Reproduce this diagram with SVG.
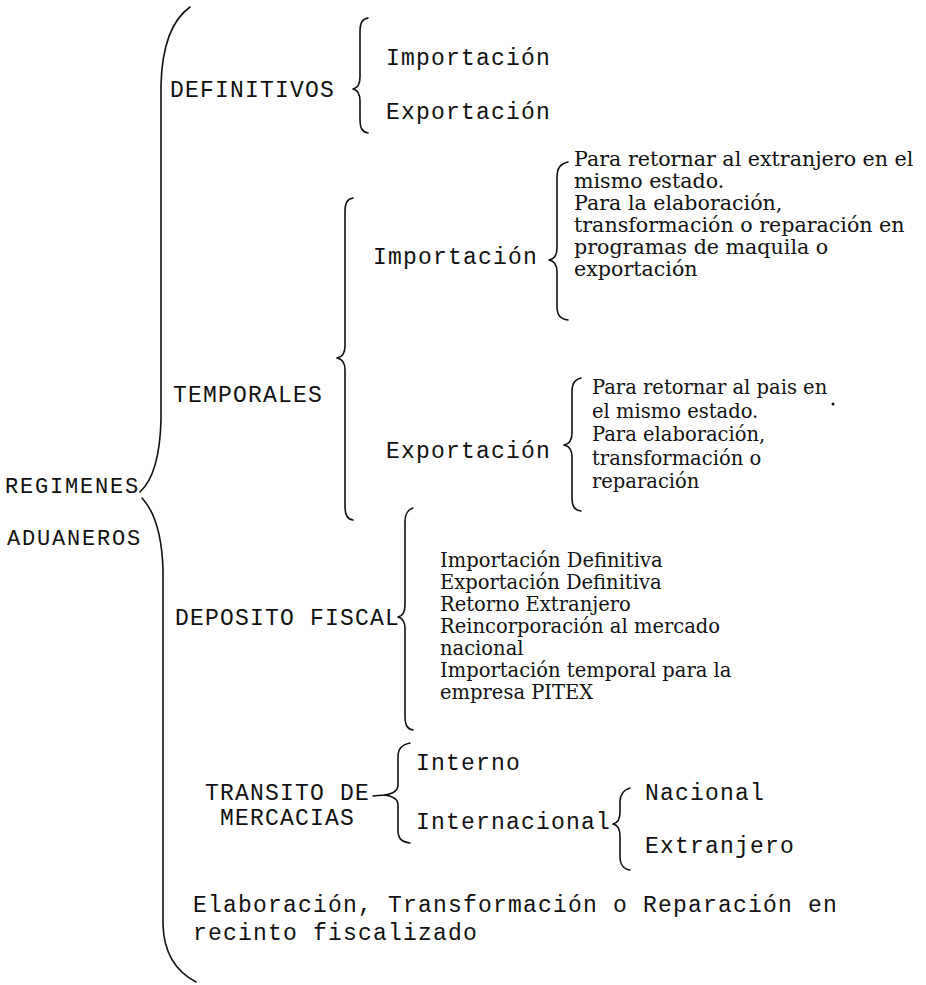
<svg xmlns="http://www.w3.org/2000/svg" width="926" height="985" viewBox="0 0 926 985">
<style>
.m{font-family:"Liberation Mono",monospace;font-size:23px;letter-spacing:1.2px;fill:#111}
.ms{font-family:"Liberation Mono",monospace;font-size:22px;letter-spacing:1.8px;fill:#111}
.s{font-family:"DejaVu Serif",serif;font-size:20.6px;fill:#111}
.se{font-family:"DejaVu Serif",serif;font-size:19.5px;fill:#111}
.sd{font-family:"DejaVu Serif",serif;font-size:19.5px;fill:#111}
.b{fill:none;stroke:#111;stroke-width:1.6;stroke-linecap:round;stroke-linejoin:round}
</style>
<rect width="926" height="985" fill="#fff"/>
<g id="connectors">
<path class="b" d="M190,7 C172,20 162,45 161,85 L161,420 C160,458 153,480 140,492 M142,498 C155,512 162,535 163,570 L163,925 C164,955 177,972 196,982"/>
<path class="b" d="M368,18 C362,19 360,23 360,32 L360,77 C360,84 358,88 353,89 C358,90 360,94 360,101 L360,119 C360,128 362,132 368,133"/>
<path class="b" d="M353,198 C347,199 345,203 345,212 L345,346 C345,353 343,357 337,358 C343,359 345,363 345,370 L345,506 C345,515 347,519 353,520"/>
<path class="b" d="M568,162 C560,164 557,168 557,178 L557,248 C557,255 555,259 549,260 C555,261 557,265 557,272 L557,306 C557,315 560,319 568,320"/>
<path class="b" d="M581,378 C574,380 572,384 572,392 L572,433 C572,440 570,444 564,445 C570,446 572,450 572,457 L572,497 C572,506 574,510 581,511"/>
<path class="b" d="M413,508 C407,510 405,514 405,522 L405,605 C405,612 403,616 398,617 C403,618 405,622 405,629 L405,716 C405,725 407,729 413,730"/>
<path class="b" d="M410,743 C401,745 398,749 398,757 L398,785 C398,791 392,794 384,795 C392,796 398,799 398,805 L398,830 C398,838 401,842 410,843 M373,796 L384,795"/>
<path class="b" d="M630,788 C623,790 620,794 620,802 L620,812 C620,819 618,823 613,824 C618,825 620,829 620,836 L620,856 C620,865 623,869 630,870"/>
</g>
<g id="root"><text class="ms" x="5" y="493">REGIMENES</text><text class="ms" x="7" y="545">ADUANEROS</text></g>
<g id="definitivos"><text class="m" x="170" y="97">DEFINITIVOS</text></g>
<g id="def-importacion"><text class="m" x="386" y="65">Importación</text></g>
<g id="def-exportacion"><text class="m" x="386" y="119">Exportación</text></g>
<g id="temporales"><text class="m" x="173" y="402">TEMPORALES</text></g>
<g id="temp-importacion"><text class="m" x="373" y="264">Importación</text></g>
<g id="temp-importacion-items">
<text class="s" x="574" y="166">Para retornar al extranjero en el</text>
<text class="s" x="574" y="188">mismo estado.</text>
<text class="s" x="574" y="210">Para la elaboración,</text>
<text class="s" x="574" y="232">transformación o reparación en</text>
<text class="s" x="574" y="254">programas de maquila o</text>
<text class="s" x="574" y="276">exportación</text>
</g>
<g id="temp-exportacion"><text class="m" x="386" y="458">Exportación</text></g>
<g id="temp-exportacion-items">
<text class="se" x="592" y="394">Para retornar al pais en</text>
<circle cx="833" cy="404" r="1.5" fill="#111"/>
<text class="se" x="592" y="417.5">el mismo estado.</text>
<text class="se" x="592" y="441">Para elaboración,</text>
<text class="se" x="592" y="464.5">transformación o</text>
<text class="se" x="592" y="488">reparación</text>
</g>
<g id="deposito"><text class="m" x="175" y="625">DEPOSITO FISCAL</text></g>
<g id="deposito-items">
<text class="sd" x="440" y="567">Importación Definitiva</text>
<text class="sd" x="440" y="589">Exportación Definitiva</text>
<text class="sd" x="440" y="611">Retorno Extranjero</text>
<text class="sd" x="440" y="633">Reincorporación al mercado</text>
<text class="sd" x="440" y="655">nacional</text>
<text class="sd" x="440" y="677">Importación temporal para la</text>
<text class="sd" x="440" y="699">empresa PITEX</text>
</g>
<g id="transito"><text class="m" x="205" y="800">TRANSITO DE</text><text class="m" x="220" y="825">MERCACIAS</text></g>
<g id="interno"><text class="m" x="416" y="770">Interno</text></g>
<g id="internacional"><text class="m" x="416" y="829">Internacional</text></g>
<g id="nacional"><text class="m" x="645" y="800">Nacional</text></g>
<g id="extranjero"><text class="m" x="645" y="853">Extranjero</text></g>
<g id="elaboracion"><text class="m" x="193" y="912">Elaboración, Transformación o Reparación en</text><text class="m" x="193" y="940">recinto fiscalizado</text></g>
</svg>
